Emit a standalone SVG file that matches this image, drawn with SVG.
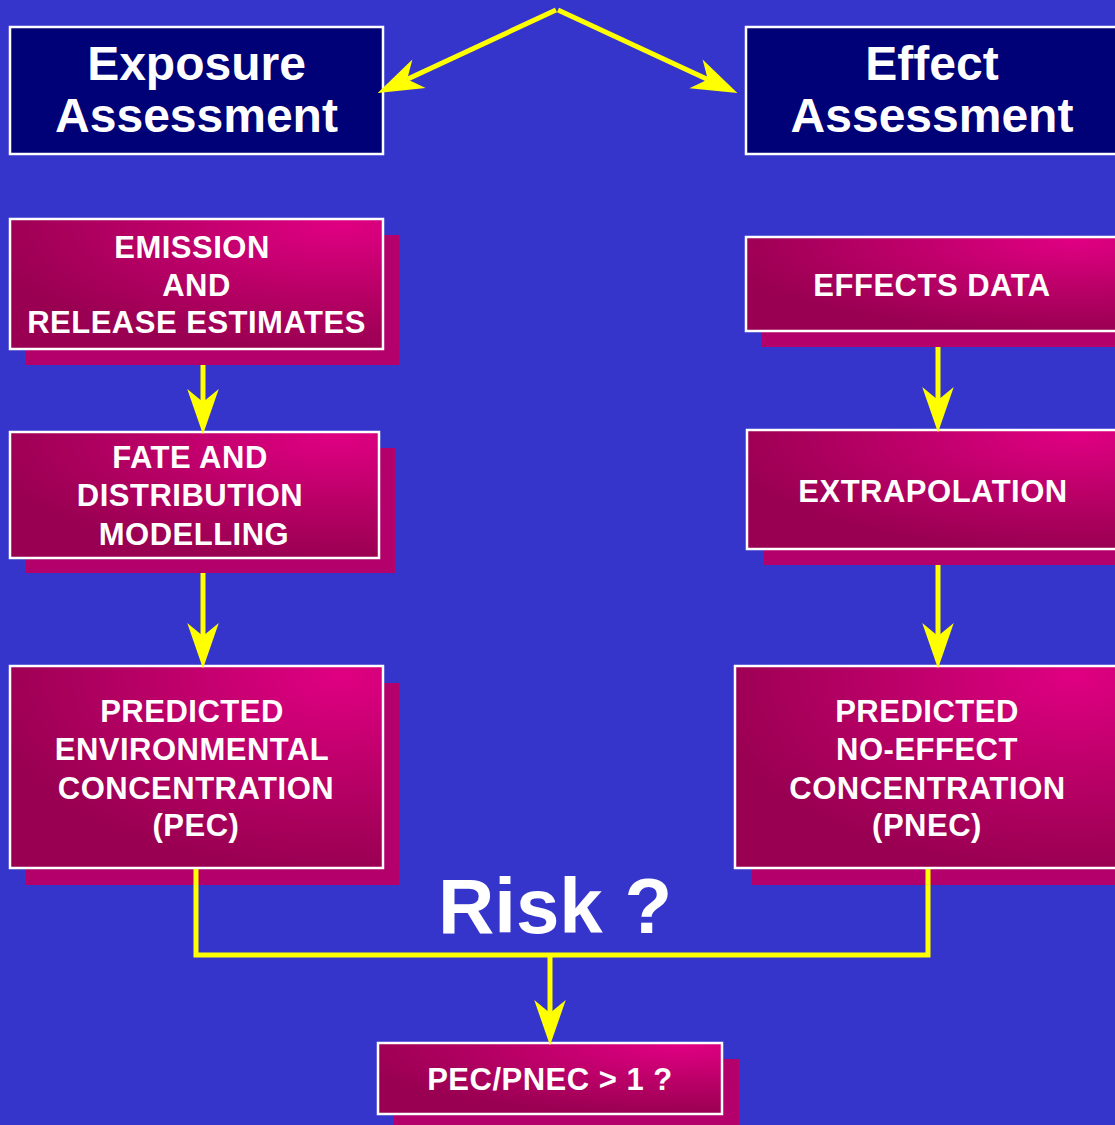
<svg xmlns="http://www.w3.org/2000/svg" width="1115" height="1125" viewBox="0 0 1115 1125">
<defs>
<radialGradient id="pink" cx="0.88" cy="0.05" r="0.95" fx="0.88" fy="0.05">
<stop offset="0" stop-color="#DF0082"/>
<stop offset="0.55" stop-color="#B80066"/>
<stop offset="1" stop-color="#9A0052"/>
</radialGradient>
<marker id="ah" markerUnits="userSpaceOnUse" markerWidth="50" markerHeight="40" viewBox="-14 -16 46 32" refX="0" refY="0" orient="auto" overflow="visible">
<path d="M30,0 L-12,-14.5 L0,0 L-12,14.5 Z" fill="#FFFF00"/>
</marker>
<style>
.title{fill:#000077;stroke:#FFFFFF;stroke-width:2.5}
.box{fill:url(#pink);stroke:#FFFFFF;stroke-width:2.5}
.sh{fill:#B4006B}
.tt{font-family:"Liberation Sans",Arial,sans-serif;font-weight:bold;font-size:48px;fill:#FFFFFF;text-anchor:middle}
.bt{font-family:"Liberation Sans",Arial,sans-serif;font-weight:bold;font-size:31px;letter-spacing:0.5px;fill:#FFFFFF;text-anchor:middle}
.risk{font-family:"Liberation Sans",Arial,sans-serif;font-weight:bold;font-size:78px;fill:#FFFFFF;text-anchor:middle}
.ln{fill:none;stroke:#FFFF00;stroke-width:5}
</style>
</defs>
<rect x="0" y="0" width="1115" height="1125" fill="#3535CC"/>

<g id="exposure">
<rect class="title" x="10" y="27" width="373" height="127"/>
<text class="tt" x="196.5" y="80">Exposure</text>
<text class="tt" x="196.5" y="132">Assessment</text>
</g>
<g id="effect">
<rect class="title" x="746" y="27" width="373" height="127"/>
<text class="tt" x="932" y="80">Effect</text>
<text class="tt" x="932" y="132">Assessment</text>
</g>

<g id="emission">
<rect class="sh" x="26" y="235" width="373" height="130"/>
<rect class="box" x="10" y="219" width="373" height="130"/>
<text class="bt" x="192" y="258">EMISSION</text>
<text class="bt" x="196.5" y="296">AND</text>
<text class="bt" x="196.5" y="333">RELEASE ESTIMATES</text>
</g>
<g id="fate">
<rect class="sh" x="26" y="448" width="369" height="125"/>
<rect class="box" x="10" y="432" width="369" height="126"/>
<text class="bt" x="190" y="468">FATE AND</text>
<text class="bt" x="190" y="506">DISTRIBUTION</text>
<text class="bt" x="194" y="545">MODELLING</text>
</g>
<g id="pec">
<rect class="sh" x="26" y="683" width="373" height="202"/>
<rect class="box" x="10" y="666" width="373" height="202"/>
<text class="bt" x="192" y="722">PREDICTED</text>
<text class="bt" x="192" y="760">ENVIRONMENTAL</text>
<text class="bt" x="196" y="799">CONCENTRATION</text>
<text class="bt" x="196" y="836">(PEC)</text>
</g>

<g id="effects-data">
<rect class="sh" x="762" y="253" width="373" height="94"/>
<rect class="box" x="746" y="237" width="373" height="94"/>
<text class="bt" x="932" y="296">EFFECTS DATA</text>
</g>
<g id="extrapolation">
<rect class="sh" x="764" y="446" width="373" height="119"/>
<rect class="box" x="747" y="430" width="373" height="119"/>
<text class="bt" x="933" y="502">EXTRAPOLATION</text>
</g>
<g id="pnec">
<rect class="sh" x="752" y="683" width="385" height="202"/>
<rect class="box" x="735" y="666" width="385" height="202"/>
<text class="bt" x="927" y="722">PREDICTED</text>
<text class="bt" x="927" y="760">NO-EFFECT</text>
<text class="bt" x="927.5" y="799">CONCENTRATION</text>
<text class="bt" x="927" y="836">(PNEC)</text>
</g>

<g id="ratio">
<rect class="sh" x="394" y="1059" width="345" height="70"/>
<rect class="box" x="378" y="1043" width="344" height="71"/>
<text class="bt" x="550" y="1090">PEC/PNEC &gt; 1 ?</text>
</g>

<g id="risk-label">
<text class="risk" x="555" y="933">Risk ?</text>
</g>

<g id="connectors">
<line class="ln" x1="556" y1="10" x2="407.2" y2="79.2" marker-end="url(#ah)"/>
<line class="ln" x1="558" y1="10" x2="707.8" y2="79.4" marker-end="url(#ah)"/>
<line class="ln" x1="203" y1="365" x2="203" y2="402" marker-end="url(#ah)"/>
<line class="ln" x1="203" y1="573" x2="203" y2="636" marker-end="url(#ah)"/>
<line class="ln" x1="938" y1="347" x2="938" y2="400" marker-end="url(#ah)"/>
<line class="ln" x1="938" y1="565" x2="938" y2="636" marker-end="url(#ah)"/>
<polyline class="ln" points="196,869 196,955 928,955 928,869"/>
<line class="ln" x1="550" y1="955" x2="550" y2="1013" marker-end="url(#ah)"/>
</g>
</svg>
